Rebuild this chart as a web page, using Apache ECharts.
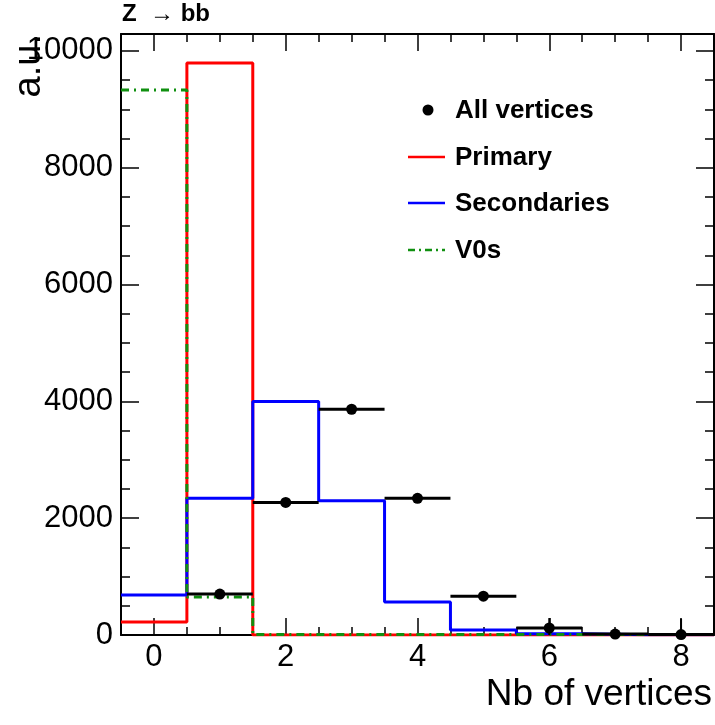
<!DOCTYPE html>
<html>
<head>
<meta charset="utf-8">
<script src="https://cdn.jsdelivr.net/npm/echarts@6/dist/echarts.min.js"></script>
<style>
  html, body { margin: 0; padding: 0; background: #fff; }
  #chart { width: 715px; height: 725px; }
</style>
</head>
<body>
<div id="chart"></div>
<script>
// 数据（从图上读出来的）
const bins = [0, 1, 2, 3, 4, 5, 6, 7, 8];
const primary = [222, 9795, 0, 0, 0, 0, 0, 0, 0];
const secondaries = [684, 2342, 4000, 2300, 564, 85, 20, 5, 3];
const v0s = [9333, 650, 8, 8, 8, 8, 8, 8, 8];
const allBins = [1, 2, 3, 4, 5, 6, 7, 8];
const allValues = [700, 2270, 3865, 2340, 665, 120, 15, 8];
const allErrors = [40, 50, 60, 50, 40, 170, 60, 270];

const xMajor = [0, 2, 4, 6, 8];
const yMajor = [0, 2000, 4000, 6000, 8000, 10000];

const FONT = '"Liberation Sans", Arial, sans-serif';

// 直方图台阶：每个 bin 两个端点
function stepPoints(vals) {
  const pts = [];
  bins.forEach((b, i) => {
    pts.push([b - 0.5, vals[i]]);
    pts.push([b + 0.5, vals[i]]);
  });
  return pts;
}

const xMinor = [];
for (let v = -0.5; v <= 8.5; v += 0.5) xMinor.push(v);
const yMinor = [];
for (let v = 0; v <= 10000; v += 500) yMinor.push(v);

const plain = v => String(v);

function xAx(pos, ticks, len, showLine, labels) {
  return {
    type: 'value', position: pos, min: -0.5, max: 8.5,
    axisLine: { show: showLine, onZero: false, lineStyle: { color: '#000', width: 2 } },
    axisTick: { show: true, inside: true, length: len, customValues: ticks, lineStyle: { color: '#000', width: 1.5 } },
    axisLabel: labels ? { show: true, customValues: ticks, formatter: plain, color: '#000', fontSize: 31, fontFamily: FONT, margin: 7 } : { show: false },
    splitLine: { show: false }
  };
}
function yAx(pos, ticks, len, showLine, labels) {
  return {
    type: 'value', position: pos, min: 0, max: 10290,
    axisLine: { show: showLine, onZero: false, lineStyle: { color: '#000', width: 2 } },
    axisTick: { show: true, inside: true, length: len, customValues: ticks, lineStyle: { color: '#000', width: 1.5 } },
    axisLabel: labels ? { show: true, customValues: ticks, formatter: plain, color: '#000', fontSize: 31, fontFamily: FONT, margin: 8 } : { show: false },
    splitLine: { show: false }
  };
}

function stepSeries(name, vals, color, dash, z) {
  return {
    name: name, type: 'line', data: stepPoints(vals),
    xAxisIndex: 0, yAxisIndex: 0,
    symbol: 'none', clip: true, z: z, animation: false,
    lineStyle: { color: color, width: 3, type: dash || 'solid' }
  };
}

const chart = echarts.init(document.getElementById('chart'));

chart.setOption({
  backgroundColor: '#fff',
  animation: false,
  grid: { left: 121, right: 1, top: 34, bottom: 90 },
  xAxis: [
    xAx('bottom', xMajor, 17, true, true),
    xAx('bottom', xMinor, 8, false, false),
    xAx('top', xMajor, 17, true, false),
    xAx('top', xMinor, 8, false, false)
  ],
  yAxis: [
    yAx('left', yMajor, 18, true, true),
    yAx('left', yMinor, 9, false, false),
    yAx('right', yMajor, 18, true, false),
    yAx('right', yMinor, 9, false, false)
  ],
  series: [
    stepSeries('Primary', primary, '#ff0000', null, 2),
    stepSeries('Secondaries', secondaries, '#0000ff', null, 3),
    stepSeries('V0s', v0s, '#109010', [8, 5, 2, 5], 4),
    {
      name: 'All vertices', type: 'custom', z: 5,
      xAxisIndex: 0, yAxisIndex: 0,
      data: allBins.map((b, i) => [b, allValues[i], allErrors[i]]),
      renderItem: function (params, api) {
        const x = api.value(0), y = api.value(1), e = api.value(2);
        const l = api.coord([x - 0.5, y]);
        const r = api.coord([x + 0.5, y]);
        const c = api.coord([x, y]);
        const t = api.coord([x, y + e]);
        const b = api.coord([x, Math.max(0, y - e)]);
        return {
          type: 'group',
          children: [
            { type: 'line', shape: { x1: l[0], y1: l[1], x2: r[0], y2: r[1] }, style: { stroke: '#000', lineWidth: 3 } },
            { type: 'line', shape: { x1: t[0], y1: t[1], x2: b[0], y2: b[1] }, style: { stroke: '#000', lineWidth: 2 } },
            { type: 'circle', shape: { cx: c[0], cy: c[1], r: 5.5 }, style: { fill: '#000' } }
          ]
        };
      }
    }
  ],
  graphic: [
    { type: 'text', left: 122, top: 2, style: { text: 'Z  \u2192 bb', font: 'bold 24px ' + FONT, fill: '#000' } },
    { type: 'text', x: 30, y: 34, rotation: Math.PI / 2,
      style: { text: 'a.u.', font: '38px ' + FONT, fill: '#000', align: 'right', verticalAlign: 'middle' } },
    { type: 'text', x: 712, y: 695,
      style: { text: 'Nb of vertices', font: '37px ' + FONT, fill: '#000', align: 'right', verticalAlign: 'middle' } },
    // 图例
    { type: 'circle', shape: { cx: 428, cy: 110, r: 5.5 }, style: { fill: '#000' } },
    { type: 'text', x: 455, y: 111, style: { text: 'All vertices', font: 'bold 26px ' + FONT, fill: '#000', verticalAlign: 'middle' } },
    { type: 'line', shape: { x1: 408, y1: 157, x2: 445, y2: 157 }, style: { stroke: '#ff0000', lineWidth: 2.5 } },
    { type: 'text', x: 455, y: 158, style: { text: 'Primary', font: 'bold 26px ' + FONT, fill: '#000', verticalAlign: 'middle' } },
    { type: 'line', shape: { x1: 408, y1: 203, x2: 445, y2: 203 }, style: { stroke: '#0000ff', lineWidth: 2.5 } },
    { type: 'text', x: 455, y: 204, style: { text: 'Secondaries', font: 'bold 26px ' + FONT, fill: '#000', verticalAlign: 'middle' } },
    { type: 'line', shape: { x1: 408, y1: 250, x2: 445, y2: 250 }, style: { stroke: '#109010', lineWidth: 2.5, lineDash: [7, 4, 2, 4] } },
    { type: 'text', x: 455, y: 251, style: { text: 'V0s', font: 'bold 26px ' + FONT, fill: '#000', verticalAlign: 'middle' } }
  ]
});
</script>
</body>
</html>
